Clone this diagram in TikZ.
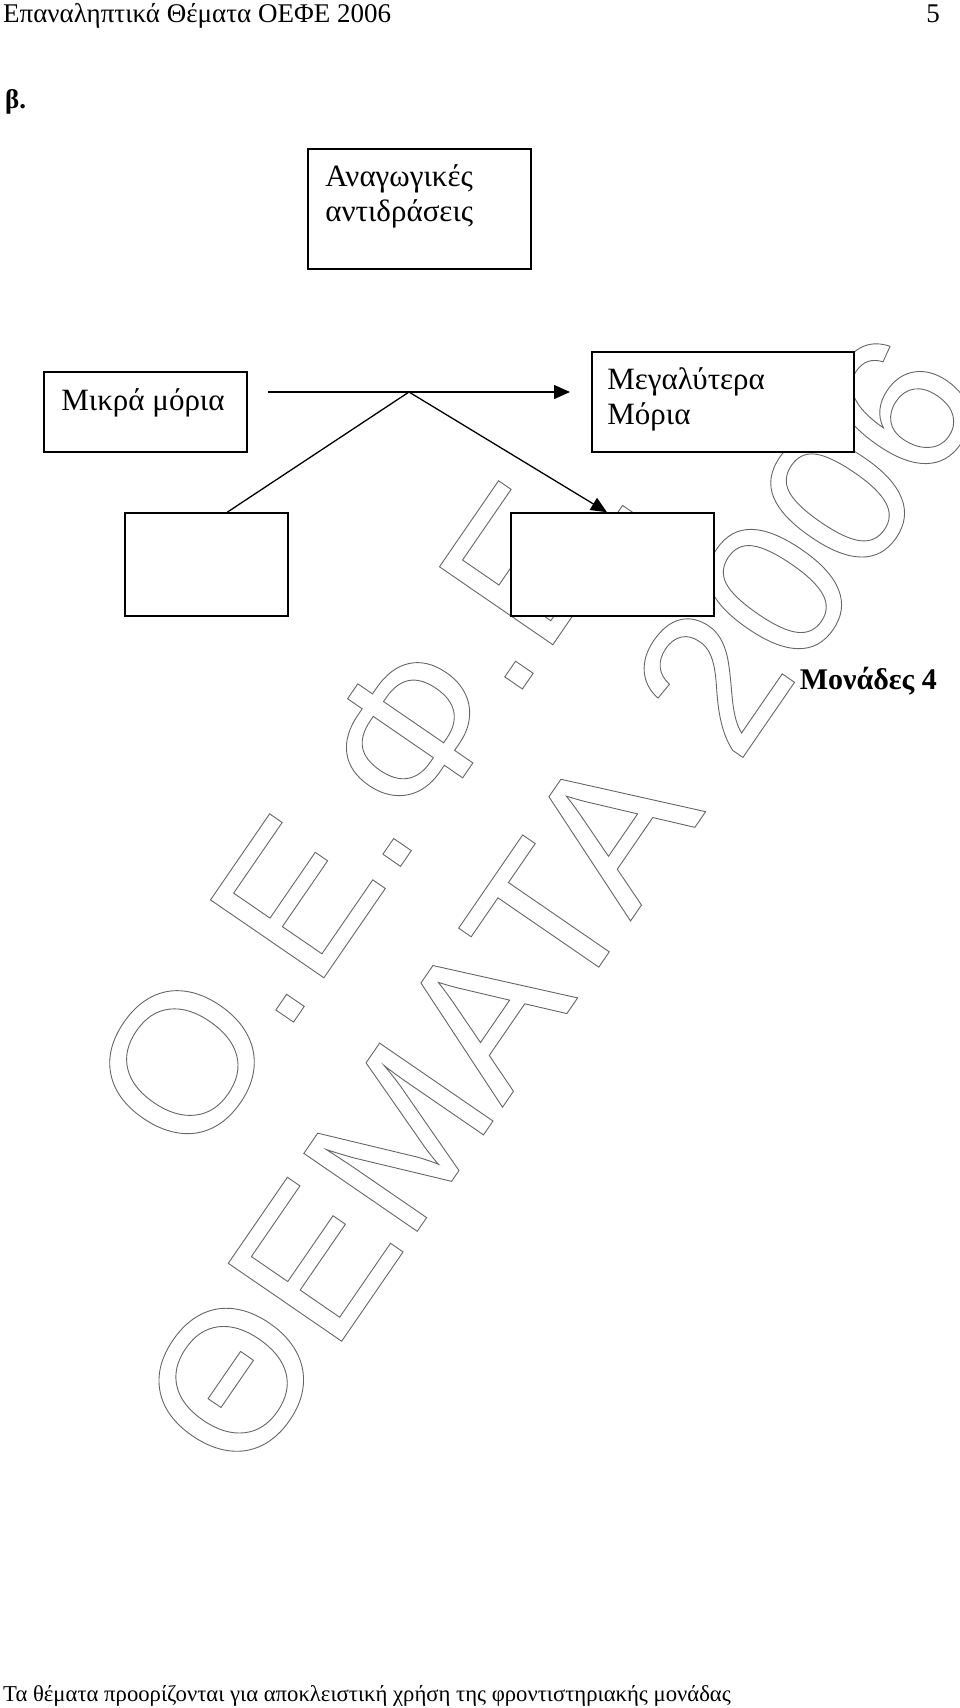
\documentclass[tikz,border=0pt]{standalone}
\usepackage{fontspec}
\setmainfont{Liberation Serif}
\newfontfamily\wmfont{Liberation Sans}
\usetikzlibrary{calc,arrows.meta}

% hollow letters for the watermark
\newcommand{\hollow}[1]{\special{pdf:literal direct 1 Tr 0.9 w}#1\special{pdf:literal direct 0 Tr}}

\begin{document}
\begin{tikzpicture}[x=1pt, y=-1pt,
  box/.style={draw, line width=1.6pt, fill=white, inner sep=0pt},
  boxtext/.style={anchor=base west, inner sep=0pt, align=left, font=\fontsize{31}{35}\selectfont},
  plain/.style={inner sep=0pt, font=\fontsize{27}{32}\selectfont},
  conn/.style={line width=1.3pt},
  wmark/.style={inner sep=0pt, text=black!60, font=\fontsize{200}{240}\wmfont, rotate=55.5}]
  \useasboundingbox (0,0) rectangle (960,1708);

  % header and footer
  \node[plain, anchor=base west] (head) at (3,22) {Επαναληπτικά Θέματα ΟΕΦΕ 2006};
  \node[plain, anchor=base east] (pageno) at (940,22) {5};
  \node[plain, anchor=base west, font=\fontsize{27}{32}\selectfont\bfseries] (part) at (5,108) {β.};
  \node[plain, anchor=base west, font=\fontsize{22.7}{27}\selectfont] (foot) at (3,1701) {Τα θέματα προορίζονται για αποκλειστική χρήση της φροντιστηριακής μονάδας};

  % watermark
  \node[wmark] (wm1) at (366,795) {\hollow{Ο.Ε.Φ.Ε.}};
  \node[wmark] (wm2) at (560,902) {\hollow{ΘΕΜΑΤΑ 2006}};

  % boxes
  \node[box, minimum width=223, minimum height=120] (title) at (419.5,209) {};
  \node[box, minimum width=203, minimum height=80] (small) at (145.5,412) {};
  \node[box, minimum width=262, minimum height=100] (large) at (723,402) {};
  \node[box, minimum width=163, minimum height=103] (lbox) at (206.5,564.5) {};
  \node[box, minimum width=203, minimum height=103] (rbox) at (612.5,564.5) {};
  \node[boxtext] (titletxt) at ([shift={(18,73)}]title.north west) {Αναγωγικές\\αντιδράσεις};
  \node[boxtext] (smalltxt) at ([shift={(18,39)}]small.north west) {Μικρά μόρια};
  \node[boxtext] (largetxt) at ([shift={(16,73)}]large.north west) {Μεγαλύτερα\\Μόρια};

  % reaction arrow
  \coordinate (from) at (268,392);
  \coordinate (to) at (570,392);
  \coordinate (apex) at (409,392);
  \draw[conn, -{Triangle[length=16pt, width=14pt]}] (from) -- (to);
  \draw[conn] (apex) -- ($(lbox.north west)!0.626!(lbox.north east)$);
  \draw[conn, -{Triangle[length=16pt, width=14pt]}] (apex) -- ($(rbox.north west)!0.473!(rbox.north east)$);

  \node[plain, anchor=base east, font=\fontsize{30}{36}\selectfont\bfseries] (marks) at (937,689) {Μονάδες 4};
\end{tikzpicture}
\end{document}
